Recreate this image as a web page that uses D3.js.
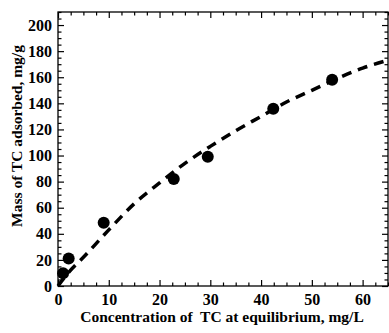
<!DOCTYPE html>
<html lang="en">
<head>
<meta charset="UTF-8">
<title>TC adsorption isotherm</title>
<script src="https://d3js.org/d3.v7.min.js"></script>
<style>
    body { margin: 0; background: #fff; }
    svg { display: block; }
    text { font-family: "Liberation Serif", "Times New Roman", serif; font-weight: bold; fill: #000; }
</style>
</head>
<body>
<script>
    // measured points (Ce, qe)
    const ce = [1, 2.1, 9, 22.8, 29.5, 42.4, 54];
    const qe = [9.8, 21, 48.5, 82, 99, 135.8, 158];

    // fitted model curve
    const fitX = [0, 2, 5, 10, 15, 20, 25, 30, 35, 40, 45, 50, 55, 60, 65];
    const fitY = [0, 10, 22, 43, 63, 79, 94, 107, 119, 130, 141, 150, 159, 167, 173];

    const xTicks = [0, 10, 20, 30, 40, 50, 60];
    const yTicks = [0, 20, 40, 60, 80, 100, 120, 140, 160, 180, 200];

    const w = 389, h = 333;
    const mLeft = 58, mRight = 388, mTop = 12, mBottom = 286;

    const svg = d3.select("body").append("svg")
        .attr("width", w)
        .attr("height", h);

    const x = d3.scaleLinear().domain([0, 65]).range([mLeft, mRight]);
    const y = d3.scaleLinear().domain([0, 210]).range([mBottom, mTop]);

    const xMinor = d3.range(0, 65.01, 2.5).filter(d => d % 10 !== 0);
    const yMinor = d3.range(0, 210.01, 5).filter(d => d % 20 !== 0);

    // inward ticks on all four sides
    const tickStyle = g => {
        g.select(".domain").remove();
        g.selectAll("line").attr("stroke", "#000").attr("stroke-width", 1.2);
    };

    svg.append("g")
        .attr("transform", "translate(0," + mBottom + ")")
        .call(d3.axisBottom(x).tickValues(xTicks).tickSize(-6).tickPadding(8))
        .call(tickStyle)
        .selectAll("text").style("font-size", "16px");
    svg.append("g")
        .attr("transform", "translate(0," + mBottom + ")")
        .call(d3.axisBottom(x).tickValues(xMinor).tickSize(-3.5).tickFormat(""))
        .call(tickStyle);
    svg.append("g")
        .attr("transform", "translate(0," + mTop + ")")
        .call(d3.axisTop(x).tickValues(xTicks).tickSize(-6).tickFormat(""))
        .call(tickStyle);
    svg.append("g")
        .attr("transform", "translate(0," + mTop + ")")
        .call(d3.axisTop(x).tickValues(xMinor).tickSize(-3.5).tickFormat(""))
        .call(tickStyle);

    svg.append("g")
        .attr("transform", "translate(" + mLeft + ",0)")
        .call(d3.axisLeft(y).tickValues(yTicks).tickSize(-6).tickPadding(6))
        .call(tickStyle)
        .selectAll("text").style("font-size", "16px");
    svg.append("g")
        .attr("transform", "translate(" + mLeft + ",0)")
        .call(d3.axisLeft(y).tickValues(yMinor).tickSize(-3.5).tickFormat(""))
        .call(tickStyle);
    svg.append("g")
        .attr("transform", "translate(" + mRight + ",0)")
        .call(d3.axisRight(y).tickValues(yTicks).tickSize(-6).tickFormat(""))
        .call(tickStyle);
    svg.append("g")
        .attr("transform", "translate(" + mRight + ",0)")
        .call(d3.axisRight(y).tickValues(yMinor).tickSize(-3.5).tickFormat(""))
        .call(tickStyle);

    // frame
    svg.append("rect")
        .attr("x", mLeft)
        .attr("y", mTop)
        .attr("width", mRight - mLeft)
        .attr("height", mBottom - mTop)
        .attr("fill", "none")
        .attr("stroke", "#000")
        .attr("stroke-width", 1.3);

    // dashed fit
    const line = d3.line()
        .x((d, i) => x(fitX[i]))
        .y(d => y(d))
        .curve(d3.curveMonotoneX);

    svg.append("path")
        .datum(fitY)
        .attr("d", line)
        .attr("fill", "none")
        .attr("stroke", "#000")
        .attr("stroke-width", 3.5)
        .attr("stroke-dasharray", "10,7");

    svg.selectAll("circle")
        .data(ce)
        .enter()
        .append("circle")
        .attr("cx", d => x(d))
        .attr("cy", (d, i) => y(qe[i]))
        .attr("r", 6)
        .attr("fill", "#000");

    svg.append("text")
        .attr("x", 222)
        .attr("y", 322)
        .attr("text-anchor", "middle")
        .style("font-size", "15.5px")
        .style("white-space", "pre")
        .text("Concentration of  TC at equilibrium, mg/L");

    svg.append("text")
        .attr("transform", "translate(22,136) rotate(-90)")
        .attr("text-anchor", "middle")
        .style("font-size", "15.5px")
        .text("Mass of TC adsorbed, mg/g");
</script>
</body>
</html>
